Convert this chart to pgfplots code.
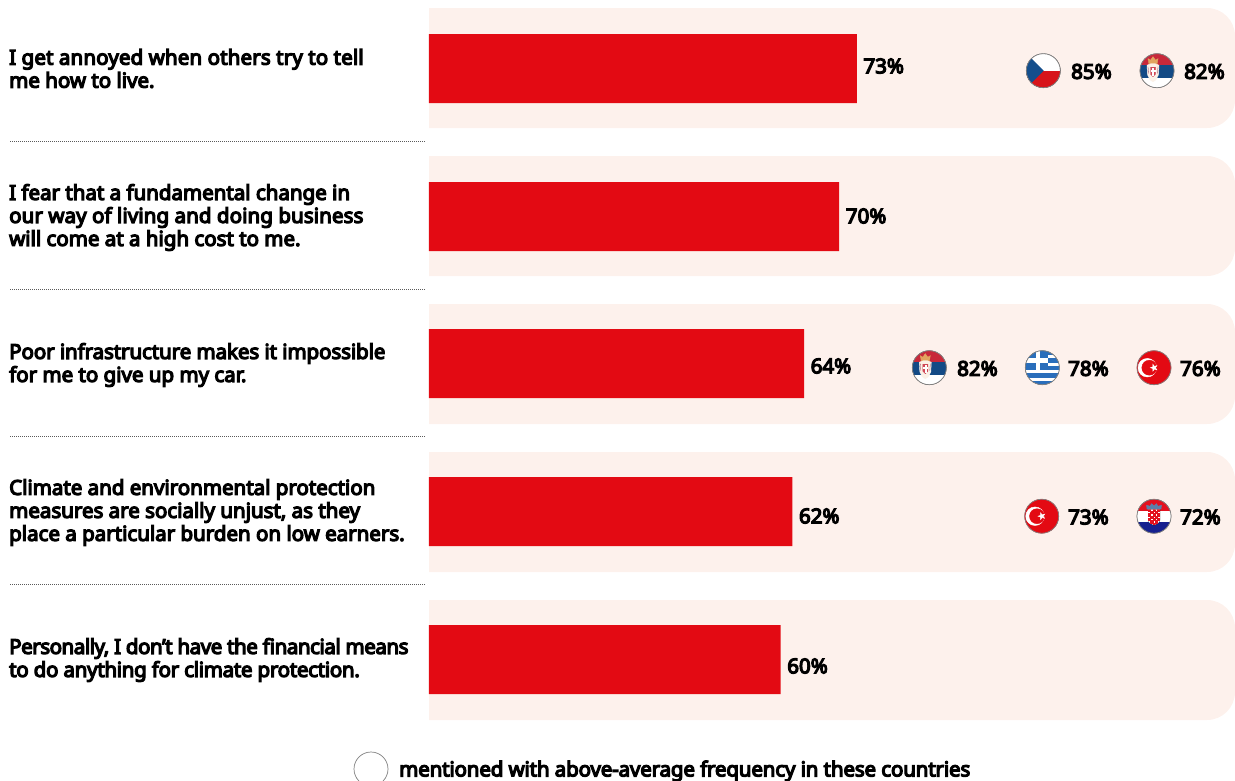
\documentclass[border=0pt]{standalone}
\usepackage{fontspec}
\setmainfont{Noto Sans}[AutoFakeBold=6]
\usepackage{pgfplots}
\pgfplotsset{compat=1.18}
\usepackage{pgfplotstable}

\definecolor{panel}{HTML}{FDF1EC}
\definecolor{barred}{HTML}{E30A13}
\definecolor{rim}{HTML}{808080}
\definecolor{czblue}{HTML}{144E8C}
\definecolor{czred}{HTML}{D7141A}
\definecolor{rsred}{HTML}{C8283A}
\definecolor{rsblue}{HTML}{134A85}
\definecolor{rsgold}{HTML}{E2A45F}
\definecolor{grblue}{HTML}{2A6EBB}
\definecolor{hrred}{HTML}{E3101E}
\definecolor{hrblue}{HTML}{16208F}
\definecolor{hrcrown}{HTML}{5C7FA8}

% Flags on a 17pt disc, usable as plot marks
\newcommand{\flagrim}{\draw[rim,line width=0.7pt] (0,0) circle (17);}
\pgfdeclareplotmark{czech}{%
  \begin{scope}[x=1pt,y=1pt]
    \begin{scope}
      \clip (0,0) circle (17);
      \fill[white] (-18,0) rectangle (18,18);
      \fill[czred] (-18,-18) rectangle (18,0);
      \fill[czblue] (-17,17) -- (0,0) -- (-17,-17) -- cycle;
    \end{scope}
    \flagrim
  \end{scope}}
\pgfdeclareplotmark{serbia}{%
  \begin{scope}[x=1pt,y=1pt]
    \begin{scope}
      \clip (0,0) circle (17);
      \fill[white] (-18,-18) rectangle (18,18);
      \fill[rsred] (-18,5.5) rectangle (18,18);
      \fill[rsblue] (-18,-6) rectangle (18,5.5);
      % crown
      \fill[rsgold] (-8,6.5) -- (-9,12) -- (-6.5,10.5) -- (-4,14) -- (-1.5,10.5) -- (1,12) -- (0,6.5) -- cycle;
      % eagle
      \fill[white!85!rsgold] (-10,5.5) -- (-6,7) -- (-2,7) -- (2,5.5) -- (1.5,-4) -- (-1,-9) -- (-4,-11) -- (-7,-9) -- (-9.5,-4) -- cycle;
      % shield
      \fill[rsred!85!white] (-6.5,3.5) -- (-1.5,3.5) -- (-1.5,-3.5) -- (-4,-6) -- (-6.5,-3.5) -- cycle;
      \fill[white] (-4.6,3) rectangle (-3.4,-4);
      \fill[white] (-6,0.4) rectangle (-2,-0.8);
      \draw[rsred!70!rsblue,line width=0.3pt] (-9,4) -- (-8.5,-3);
      \draw[rsred!70!rsblue,line width=0.3pt] (1,4) -- (0.5,-3);
    \end{scope}
    \flagrim
  \end{scope}}
\pgfdeclareplotmark{greece}{%
  \begin{scope}[x=1pt,y=1pt]
    \begin{scope}
      \clip (0,0) circle (17);
      \fill[white] (-18,-18) rectangle (18,18);
      \foreach \s in {-17,-9.4,-1.9,5.7,13.2}
        \fill[grblue] (-18,\s) rectangle (18,\s+3.8);
      \fill[grblue] (-18,-1.9) rectangle (5,18);
      \fill[white] (-6.5,-1.9) rectangle (-2.7,18);
      \fill[white] (-18,5.7) rectangle (5,9.5);
    \end{scope}
    \flagrim
  \end{scope}}
\pgfdeclareplotmark{turkey}{%
  \begin{scope}[x=1pt,y=1pt]
    \fill[barred] (0,0) circle (17);
    \fill[white] (-6.7,0) circle (9.3);
    \fill[barred] (-4.7,0) circle (7.5);
    \fill[white,shift={(4,0)}]
      (180:3.6) -- (216:1.4) -- (252:3.6) -- (288:1.4) -- (324:3.6)
      -- (0:1.4) -- (36:3.6) -- (72:1.4) -- (108:3.6) -- (144:1.4) -- cycle;
    \flagrim
  \end{scope}}
\pgfdeclareplotmark{croatia}{%
  \begin{scope}[x=1pt,y=1pt]
    \begin{scope}
      \clip (0,0) circle (17);
      \fill[white] (-18,-18) rectangle (18,18);
      \fill[hrred] (-18,5.7) rectangle (18,18);
      \fill[hrblue] (-18,-18) rectangle (18,-6);
      % crown above the shield
      \fill[hrcrown] (-7,7) -- (-7.5,11) -- (-4,10) -- (-2.5,12.5) -- (0,10.5) -- (2.5,12.5) -- (4,10) -- (7.5,11) -- (7,7) -- cycle;
      \begin{scope}
        \clip (-5.8,6.6) -- (5.8,6.6) -- (5.8,-4) .. controls (5.5,-7) and (2,-8.5) .. (0,-9) .. controls (-2,-8.5) and (-5.5,-7) .. (-5.8,-4) -- cycle;
        \fill[white] (-6,-9) rectangle (6,7);
        \foreach \i in {0,1,2,3,4}{
          \foreach \j in {0,1,2,3,4,5,6}{
            \pgfmathtruncatemacro{\odd}{mod(\i+\j,2)}
            \ifnum\odd=0
              \fill[hrred] (-5.8+\i*2.32,-9+\j*2.33) rectangle ++(2.32,2.33);
            \fi
          }}
      \end{scope}
    \end{scope}
    \flagrim
  \end{scope}}
\pgfdeclareplotmark{blankdisc}{%
  \begin{scope}[x=1pt,y=1pt]
    \fill[white] (0,0) circle (17);
    \flagrim
  \end{scope}}

% Share agreeing with each statement
\pgfplotstableread{
share barpos labelpos
73 68.5 66
70 216.5 216
64 363.5 366
62 511.5 516
60 659.5 666
}\statements

% Countries with above-average agreement: flag and figure positions
\pgfplotstableread{
flagx flagy textx share
1043.3 71.5 1071 85
1157   71.5 1184 82
929.3  368.5 957 82
1042.3 368.5 1068 78
1154   368.5 1180 76
1041.7 517 1068 73
1154   517 1180 72
}\countries

\newcommand{\bodyfont}{\fontsize{20.5}{23}\selectfont\bfseries}
\newcommand{\tightline}[2]{{\addfontfeature{LetterSpace=#1}#2}}
\tikzset{
  figure/.style={font=\bodyfont,text=black},
  statement/.style={anchor=west,align=left,font=\bodyfont,text=black,inner sep=0pt},
}

\pgfplotsset{
  canvas/.style={
    hide axis,scale only axis,width=1235pt,height=780pt,
    xmin=0,xmax=1235,ymin=0,ymax=780,y dir=reverse,
    clip=true,
  },
}

\begin{document}
\begin{tikzpicture}
\path[use as bounding box] (0,0) rectangle (1235pt,780pt);
% Layout layer in page units: panels, statements, separators, flags
\begin{axis}[canvas]
  \fill[panel] (axis cs:429,8) [rounded corners=28pt] -- (axis cs:1235,8) -- (axis cs:1235,128) [sharp corners] -- (axis cs:429,128) -- cycle;
  \fill[panel] (axis cs:429,156) [rounded corners=28pt] -- (axis cs:1235,156) -- (axis cs:1235,276) [sharp corners] -- (axis cs:429,276) -- cycle;
  \fill[panel] (axis cs:429,304) [rounded corners=28pt] -- (axis cs:1235,304) -- (axis cs:1235,424) [sharp corners] -- (axis cs:429,424) -- cycle;
  \fill[panel] (axis cs:429,452) [rounded corners=28pt] -- (axis cs:1235,452) -- (axis cs:1235,572) [sharp corners] -- (axis cs:429,572) -- cycle;
  \fill[panel] (axis cs:429,600) [rounded corners=28pt] -- (axis cs:1235,600) -- (axis cs:1235,720) [sharp corners] -- (axis cs:429,720) -- cycle;

  \addplot[rim!70!black,line width=0.7pt,dash pattern=on 1pt off 1pt] coordinates {(10,141.5) (425,141.5)};
  \addplot[rim!70!black,line width=0.7pt,dash pattern=on 1pt off 1pt] coordinates {(10,289.5) (425,289.5)};
  \addplot[rim!70!black,line width=0.7pt,dash pattern=on 1pt off 1pt] coordinates {(10,436.5) (425,436.5)};
  \addplot[rim!70!black,line width=0.7pt,dash pattern=on 1pt off 1pt] coordinates {(10,584.5) (425,584.5)};

  \node[statement] at (axis cs:9,68.5) {\tightline{0.7}{I get annoyed when others try to tell}\\me how to live.};
  \node[statement] at (axis cs:9,217.5) {I fear that a fundamental change in\\\tightline{0.5}{our way of living and doing business}\\will come at a high cost to me.};
  \node[statement] at (axis cs:9,365) {\tightline{-0.4}{Poor infrastructure makes it impossible}\\for me to give up my car.};
  \node[statement] at (axis cs:9,512.5) {Climate and environmental protection\\measures are socially unjust, as they\\place a particular burden on low earners.};
  \node[statement] at (axis cs:9,660) {\tightline{-2.2}{Personally, I don’t have the financial means}\\\tightline{-1.4}{to do anything for climate protection.}};

  \addplot[only marks,mark=czech] coordinates {(1043.3,70.7)};
  \addplot[only marks,mark=serbia] coordinates {(1157,70.7) (929.3,367.7)};
  \addplot[only marks,mark=greece] coordinates {(1042.3,367.7)};
  \addplot[only marks,mark=turkey] coordinates {(1154,367.7) (1041.7,516.2)};
  \addplot[only marks,mark=croatia] coordinates {(1154,516.2)};

  \addplot[only marks,mark=none,point meta=explicit,
    nodes near coords={\pgfmathprintnumber[assume math mode=true]{\pgfplotspointmeta}\%},
    nodes near coords style={figure,anchor=west,inner sep=0pt}]
    table[x=textx,y=flagy,meta=share] \countries;

  \addplot[only marks,mark=blankdisc] coordinates {(371,769)};
  \node[anchor=west,inner sep=0pt,font=\bodyfont] at (axis cs:399,771)
    {\tightline{-0.7}{mentioned with above-average frequency in these countries}};
\end{axis}
% Data layer: one percentage point is 5.86 page units, bars start at 429
\begin{axis}[canvas,xmin=-73.2,xmax=137.54]
  \addplot[xbar,draw=none,fill=barred,bar width=69pt,bar shift=0pt]
    table[x=share,y=barpos] \statements;
  \addplot[only marks,mark=none,point meta=explicit,
    nodes near coords={\pgfmathprintnumber[assume math mode=true]{\pgfplotspointmeta}\%},
    nodes near coords style={figure,anchor=west,inner sep=0pt,xshift=6.5pt}]
    table[x=share,y=labelpos,meta=share] \statements;
\end{axis}
\end{tikzpicture}
\end{document}
